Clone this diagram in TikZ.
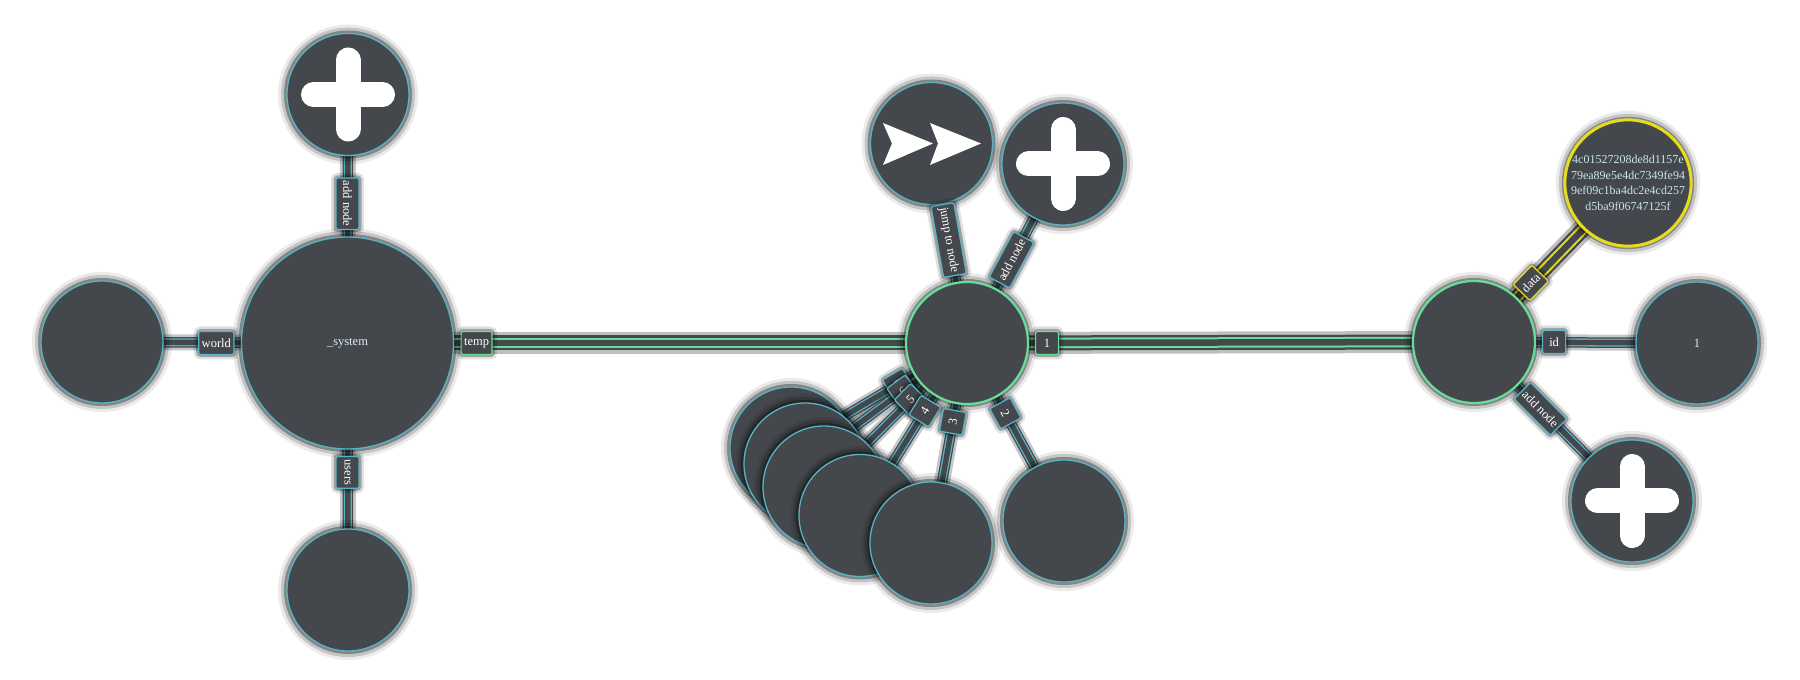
\documentclass[tikz,border=0pt]{standalone}
\usepackage{fontspec}
\setmainfont{Liberation Serif}
\usetikzlibrary{calc}
\pgfdeclarelayer{bg}
\pgfsetlayers{bg,main}
\definecolor{dk}{HTML}{44484C}
\definecolor{tl}{HTML}{56B4C6}
\definecolor{gn}{HTML}{66DD99}
\definecolor{yl}{HTML}{E6DC1E}
\definecolor{tx}{HTML}{DCEEF5}
\definecolor{hx}{HTML}{C8E6F0}
\begin{document}
\begin{tikzpicture}[x=1pt,y=1pt,
  glow/.style={preaction={draw=black,draw opacity=0.08,line width=18pt},
               preaction={draw=black,draw opacity=0.16,line width=12pt},
               preaction={draw=black,draw opacity=0.32,line width=6pt}},
  lglow/.style={preaction={draw=black,draw opacity=0.12,line width=10pt},
                preaction={draw=black,draw opacity=0.28,line width=5pt}},
  ball/.style={circle,glow,fill=dk,draw=tl,line width=1.3pt,minimum size=122pt,inner sep=0pt,
               text=tx,font=\fontsize{12.5}{15}\selectfont},
  big/.style={ball,minimum size=212pt},
  hot/.style={draw=gn,line width=2.2pt},
  sel/.style={draw=yl,line width=3pt},
  lbl/.style={rectangle,rounded corners=2pt,lglow,fill=dk,draw=tl,line width=1.2pt,text=white,
              font=\fontsize{12.5}{14}\selectfont,minimum height=23pt,minimum width=23pt,
              inner xsep=3pt,inner ysep=0pt},
  hlbl/.style={lbl,draw=gn},
  ylbl/.style={lbl,draw=yl},
  link/.style={draw=tl,line width=1.3pt,double=dk,double distance=5.4pt,
               preaction={draw=black,draw opacity=0.22,line width=16pt},
               preaction={draw=dk,line width=10.5pt}},
  hlink/.style={draw=gn,line width=2pt,double=dk,double distance=6.5pt,
                preaction={draw=black,draw opacity=0.25,line width=22pt},
                preaction={draw=dk,line width=15pt}},
  ylink/.style={hlink,draw=yl},
  plus/.style={draw=white,line width=25pt,line cap=round},
  chev/.style={fill=white},
]
\useasboundingbox (0,0) rectangle (1800,680);
\begin{pgfonlayer}{bg}
\fill[white] (0,0) rectangle (1800,680);
\end{pgfonlayer}

% circles
\node[big] (sys) at (347.5,337) {\_system};
\node[ball] (world) at (102,338) {};
\node[ball] (sysadd) at (348,585.5) {};
\node[ball] (users) at (348,90) {};
\node[ball,hot] (mid) at (967,337) {};
\node[ball] (jump) at (931.5,536.5) {};
\node[ball] (midadd) at (1063,516) {};
\node[ball] (c7) at (791,232) {};
\node[ball] (c6) at (805,216) {};
\node[ball] (c5) at (824,193) {};
\node[ball] (c4) at (860,164.5) {};
\node[ball] (c3) at (931,137) {};
\node[ball] (c2) at (1064,159) {};
\node[ball,hot] (rt) at (1474,338) {};
\node[ball] (one) at (1697,337) {1};
\node[ball] (radd) at (1632,179) {};
\node[ball,sel,align=center,text=hx,font=\fontsize{12}{15.5}\selectfont] (data) at (1628,497)
  {4c01527208de8d1157e\\79ea89e5e4dc7349fe94\\9ef09c1ba4dc2e4cd257\\d5ba9f06747125f};

% connectors
\begin{pgfonlayer}{bg}
\draw[link] (sys.center) -- (world.center);
\draw[link] (sys.center) -- (sysadd.center);
\draw[link] (sys.center) -- (users.center);
\draw[hlink] (sys.center) -- (mid.center);
\draw[link] (mid.center) -- (jump.center);
\draw[link] (mid.center) -- (midadd.center);
\draw[link] (mid.center) -- (c7.center);
\draw[link] (mid.center) -- (c6.center);
\draw[link] (mid.center) -- (c5.center);
\draw[link] (mid.center) -- (c4.center);
\draw[link] (mid.center) -- (c3.center);
\draw[link] (mid.center) -- (c2.center);
\draw[hlink] (mid.center) -- (rt.center);
\draw[ylink] (rt.center) -- (data.center);
\draw[link] (rt.center) -- (one.center);
\draw[link] (rt.center) -- (radd.center);
\end{pgfonlayer}

% icons
\draw[plus] ($(sysadd.center)+(-34.5,0)$) -- ($(sysadd.center)+(34.5,0)$)
            ($(sysadd.center)+(0,-34.5)$) -- ($(sysadd.center)+(0,34.5)$);
\draw[plus] ($(midadd.center)+(-34.5,0)$) -- ($(midadd.center)+(34.5,0)$)
            ($(midadd.center)+(0,-34.5)$) -- ($(midadd.center)+(0,34.5)$);
\draw[plus] ($(radd.center)+(-34.5,0)$) -- ($(radd.center)+(34.5,0)$)
            ($(radd.center)+(0,-34.5)$) -- ($(radd.center)+(0,34.5)$);
\fill[chev] ($(jump.center)+(-48.5,20.5)$) -- ($(jump.center)+(-39.5,0)$)
            -- ($(jump.center)+(-48.5,-21.5)$) -- ($(jump.center)+(1.5,0)$) -- cycle;
\fill[chev] ($(jump.center)+(-1.5,20.5)$) -- ($(jump.center)+(6.5,0)$)
            -- ($(jump.center)+(-1.5,-21.5)$) -- ($(jump.center)+(49.5,0)$) -- cycle;

% labels
\node[lbl,anchor=east] (lworld) at ($(sys.center)+(180:113)$) {world};
\node[hlbl,anchor=west] (ltemp) at ($(sys.center)+(0:113)$) {temp};
\node[lbl,rotate=-90,anchor=east] (lsysadd) at ($(sys.center)+(90:113)$) {add node};
\node[lbl,rotate=-90,anchor=west] (lusers) at ($(sys.center)+(-90:113)$) {users};
\node[lbl,rotate=-79.9,anchor=east] (ljump) at ($(mid.center)+(100.1:68)$) {jump to node};
\node[lbl,rotate=61.8,anchor=west] (lmidadd) at ($(mid.center)+(61.8:68)$) {add node};
\node[hlbl,anchor=west] (lone) at ($(mid.center)+(0:68)$) {1};
\node[lbl,rotate=30.8,anchor=east] (l7) at ($(mid.center)+(-149.2:68)$) {7};
\node[lbl,rotate=36.8,anchor=east] (l6) at ($(mid.center)+(-143.2:68)$) {6};
\node[lbl,rotate=45.2,anchor=east] (l5) at ($(mid.center)+(-134.8:68)$) {5};
\node[lbl,rotate=58.2,anchor=east] (l4) at ($(mid.center)+(-121.8:68)$) {4};
\node[lbl,rotate=79.8,anchor=east] (l3) at ($(mid.center)+(-100.2:68)$) {3};
\node[lbl,rotate=-61.4,anchor=west] (l2) at ($(mid.center)+(-61.4:68)$) {2};
\node[ylbl,rotate=46.1,anchor=west] (ldata) at ($(rt.center)+(46.1:68)$) {data};
\node[lbl,anchor=west] (lid) at ($(rt.center)+(0:68)$) {id};
\node[lbl,rotate=-45.2,anchor=west] (lradd) at ($(rt.center)+(-45.2:68)$) {add node};
\end{tikzpicture}
\end{document}
